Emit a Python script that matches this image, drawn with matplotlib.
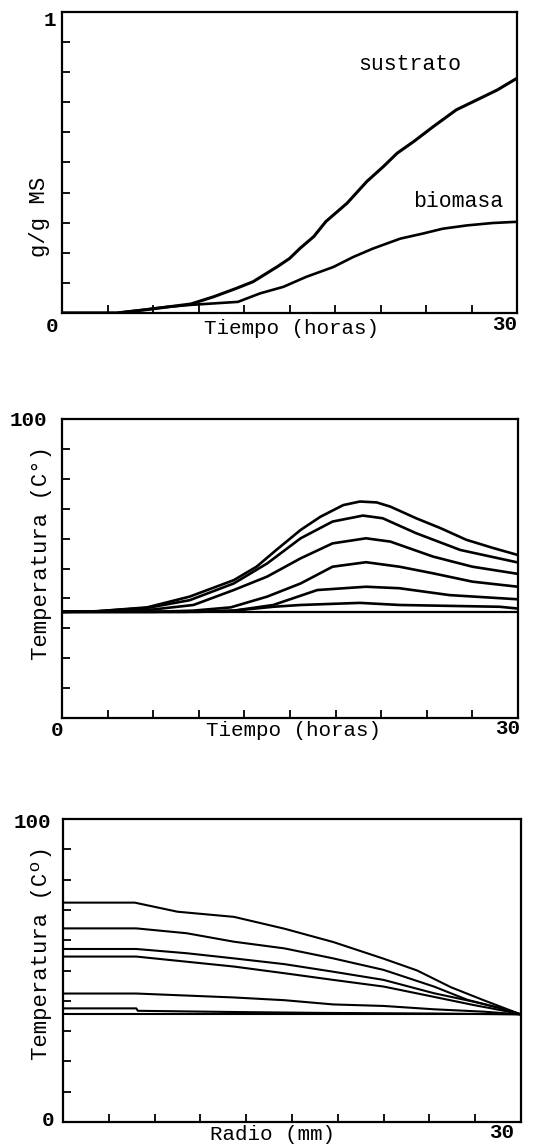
import matplotlib
matplotlib.use("Agg")
import matplotlib.pyplot as plt

# ---------------- data ----------------
# Panel 1: g/g MS vs Tiempo (horas)
sus_t = [0, 3.6, 5.4, 8.5, 10.0, 11.5, 12.6, 14.2, 15.0, 15.7, 16.6, 17.4, 18.8, 20.1, 21.2, 22.1, 23.2, 24.5, 26.0, 27.6, 28.7, 30.0]
sus_v = [0, 0.0, 0.01, 0.03, 0.054, 0.082, 0.104, 0.154, 0.181, 0.215, 0.254, 0.304, 0.365, 0.437, 0.487, 0.531, 0.57, 0.62, 0.675, 0.714, 0.741, 0.78]
bio_t = [0, 3.6, 6.9, 8.5, 11.6, 13.05, 14.6, 16.1, 17.9, 19.2, 20.5, 22.3, 23.8, 25.1, 26.7, 28.4, 30.0]
bio_v = [0, 0.0, 0.02, 0.027, 0.037, 0.065, 0.087, 0.12, 0.153, 0.186, 0.214, 0.247, 0.264, 0.28, 0.291, 0.299, 0.303]

# Panel 2: Temperatura vs Tiempo (horas), six radial positions + ambient
temp_base = 35.5
tt1 = [0, 2.3, 5.6, 8.4, 11.3, 12.8, 14.1, 15.7, 17.0, 18.5, 19.6, 20.7, 21.6, 23.3, 24.9, 26.6, 28.4, 30.0]
tv1 = [35.5, 35.7, 37.0, 40.6, 46.1, 50.6, 56.2, 62.9, 67.3, 71.2, 72.4, 72.1, 70.7, 66.8, 63.5, 59.6, 56.8, 54.5]
tt2 = [0, 2.3, 5.6, 8.4, 11.3, 13.5, 15.7, 17.8, 19.8, 21.1, 23.3, 26.2, 30.0]
tv2 = [35.5, 35.7, 36.8, 39.4, 45.0, 51.7, 60.1, 65.7, 67.7, 66.8, 61.8, 56.2, 52.0]
tt3 = [0, 3.0, 6.0, 8.65, 11.3, 13.5, 15.7, 17.8, 20.0, 21.6, 24.4, 27.0, 30.0]
tv3 = [35.5, 35.6, 36.3, 37.8, 42.8, 47.3, 53.4, 58.4, 60.1, 59.0, 54.0, 50.6, 48.2]
tt4 = [0, 6.0, 8.6, 11.1, 13.5, 15.7, 17.8, 20.0, 22.2, 24.4, 27.0, 30.0]
tv4 = [35.5, 35.5, 35.9, 37.0, 40.6, 45.0, 50.6, 52.1, 50.6, 48.4, 45.6, 43.9]
tt5 = [0, 8.0, 11.3, 13.9, 16.8, 20.0, 22.2, 25.5, 30.0]
tv5 = [35.5, 35.5, 35.9, 37.8, 42.8, 43.9, 43.4, 41.1, 39.7]
tt6 = [0, 9.0, 11.3, 13.9, 15.7, 19.6, 22.2, 28.8, 30.0]
tv6 = [35.5, 35.5, 35.9, 37.2, 37.8, 38.5, 37.8, 37.2, 36.6]

# Panel 3: Temperatura vs Radio (mm), six times + ambient
r1 = [0, 4.7, 7.5, 11.2, 14.5, 17.7, 21.0, 23.2, 25.4, 27.6, 30.0]
p1 = [72.4, 72.4, 69.4, 67.7, 63.8, 59.4, 53.9, 50.0, 44.5, 40.1, 35.5]
r2 = [0, 4.8, 8.1, 11.2, 14.5, 17.7, 21.0, 24.3, 26.5, 28.7, 30.0]
p2 = [63.9, 63.9, 62.3, 59.5, 57.3, 54.0, 50.2, 44.7, 40.3, 37.5, 35.5]
r3 = [0, 4.8, 8.1, 11.2, 14.5, 17.7, 21.0, 24.3, 26.9, 28.7, 30.0]
p3 = [57.1, 57.1, 55.7, 54.0, 52.1, 49.6, 46.9, 42.5, 39.7, 37.5, 35.5]
r4 = [0, 4.8, 8.1, 11.2, 14.5, 17.7, 21.0, 24.3, 26.9, 28.7, 30.0]
p4 = [54.6, 54.6, 52.9, 51.3, 49.1, 46.9, 44.7, 41.3, 38.6, 36.9, 35.5]
r5 = [0, 4.8, 11.2, 14.5, 17.7, 21.0, 24.3, 27.6, 30.0]
p5 = [42.4, 42.4, 41.1, 40.2, 38.8, 38.3, 37.2, 36.4, 35.5]
r6 = [0, 4.8, 4.9, 11.2, 17.0, 24.3, 30.0]
p6 = [37.5, 37.5, 36.7, 36.3, 36.0, 35.8, 35.5]

x_ticks = [3, 6, 9, 12, 15, 18, 21, 24, 27]
y_ticks_frac = [0.1, 0.2, 0.3, 0.4, 0.5, 0.6, 0.7, 0.8, 0.9]
y_ticks_temp = [10, 20, 30, 40, 50, 60, 70, 80, 90]

# ---------------- figure ----------------
W, H = 557, 1145
fig = plt.figure(figsize=(W / 100, H / 100), dpi=100)
FONT = "Liberation Mono"
plt.rcParams["font.family"] = [FONT, "DejaVu Sans Mono"]


def rect(l, t, r, b):
    return [l / W, 1 - b / H, (r - l) / W, (b - t) / H]


def style(ax, ymax, yticks):
    ax.set_xlim(0, 30)
    ax.set_ylim(0, ymax)
    for s in ax.spines.values():
        s.set_linewidth(1.6)
        s.set_color("black")
    ax.set_xticks(x_ticks)
    ax.set_yticks(yticks)
    ax.tick_params(direction="in", length=6, width=1.3, labelbottom=False,
                   labelleft=False, top=False, right=False)


def ftext(x, y, s, **kw):
    fig.text(x / W, 1 - y / H, s, ha="center", va="center", **kw)


# Panel 1
ax1 = fig.add_axes(rect(62, 12, 517, 313))
style(ax1, 1, y_ticks_frac)
ax1.plot(sus_t, sus_v, color="black", lw=2.2)
ax1.plot(bio_t, bio_v, color="black", lw=1.9)
ax1.text(22.9, 0.824, "sustrato", ha="center", va="center", fontsize=15.5)
ax1.text(26.1, 0.37, "biomasa", ha="center", va="center", fontsize=15.5)
ftext(50, 21, "1", fontsize=15, fontweight="bold")
ftext(52, 327, "0", fontsize=15, fontweight="bold")
ftext(505, 325, "30", fontsize=15, fontweight="bold")
ftext(291, 328, "Tiempo (horas)", fontsize=15)
ftext(40, 217, "g/g MS", fontsize=16, rotation=90)

# Panel 2
ax2 = fig.add_axes(rect(62, 419, 518, 718))
style(ax2, 100, y_ticks_temp)
ax2.axhline(temp_base, color="black", lw=1.6)
for tt, tv in [(tt1, tv1), (tt2, tv2), (tt3, tv3), (tt4, tv4), (tt5, tv5), (tt6, tv6)]:
    ax2.plot(tt, tv, color="black", lw=1.9)
ftext(28, 421, "100", fontsize=15, fontweight="bold")
ftext(57, 730, "0", fontsize=15, fontweight="bold")
ftext(508, 728, "30", fontsize=15, fontweight="bold")
ftext(294, 730, "Tiempo (horas)", fontsize=15)
ftext(42, 553, "Temperatura (C°)", fontsize=16, rotation=90)

# Panel 3
ax3 = fig.add_axes(rect(63, 819, 521, 1122))
style(ax3, 100, y_ticks_temp)
ax3.axhline(temp_base, color="black", lw=1.5)
for rr, pp in [(r1, p1), (r2, p2), (r3, p3), (r4, p4), (r5, p5), (r6, p6)]:
    ax3.plot(rr, pp, color="black", lw=1.5)
ftext(32, 822, "100", fontsize=15, fontweight="bold")
ftext(48, 1121, "0", fontsize=15, fontweight="bold")
ftext(502, 1132, "30", fontsize=15, fontweight="bold")
ftext(272, 1135, "Radio (mm)", fontsize=15)
ftext(42, 953, "Temperatura (Cº)", fontsize=16, rotation=90)

fig.savefig("out.png", dpi=100)
